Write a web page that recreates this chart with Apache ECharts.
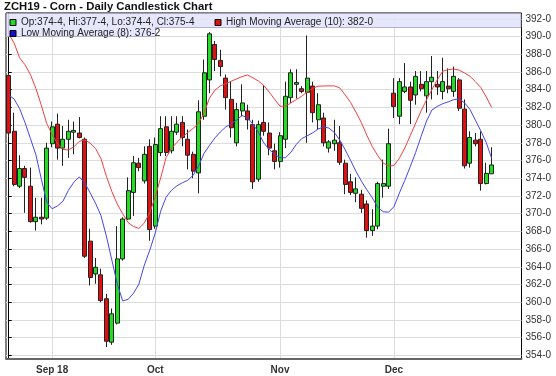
<!DOCTYPE html>
<html><head><meta charset="utf-8">
<script src="https://cdn.jsdelivr.net/npm/echarts@6/dist/echarts.min.js"></script>
<style>html,body{margin:0;padding:0;background:#fff}#c{width:556px;height:376px}</style>
</head><body><div id="c"></div>
<script>
// ---- data ----
const dates = ['08/22','08/23','08/24','08/27','08/28','08/29','08/30','08/31',
 '09/04','09/05','09/06','09/07','09/10','09/11','09/12','09/13','09/14','09/17','09/18','09/19','09/20','09/21','09/24','09/25','09/26','09/27','09/28',
 '10/01','10/02','10/03','10/04','10/05','10/08','10/09','10/10','10/11','10/12','10/15','10/16','10/17','10/18','10/19','10/22','10/23','10/24','10/25','10/26','10/29','10/30','10/31',
 '11/01','11/02','11/05','11/06','11/07','11/08','11/09','11/12','11/13','11/14','11/15','11/16','11/19','11/20','11/21','11/23','11/26','11/27','11/28','11/29','11/30',
 '12/03','12/04','12/06','12/07','12/10','12/11','12/12','12/13','12/14','12/17','12/18','12/19','12/20','12/21','12/24','12/26','12/27','12/28','12/31'];
const opens = [385.6,379.3,373.1,375.1,373.1,369.1,369.6,369.5,377.9,380.1,377.4,378.4,379.2,379.1,378.4,366.9,363.2,363.1,360.4,355.5,
 357.65,364.9,369.4,372.4,375.7,373.7,377.6,368.6,376.9,379.8,377.1,379.2,380.3,378.4,376.7,374.6,381.0,385.1,389.1,387.3,
 385.3,382.9,378.0,381.6,381.6,380.05,373.9,380.3,379.1,377.1,375.9,378.4,383.1,384.6,384.1,383.7,384.4,380.6,380.8,377.4,
 377.9,378.0,375.7,373.6,372.3,372.2,371.1,368.1,368.6,373.1,373.1,383.6,381.0,383.8,384.3,383.4,384.6,383.3,384.9,384.6,
 383.8,384.4,383.8,385.1,381.8,375.7,378.3,378.4,373.4,374.5];
const highs = [385.8,381.4,376.6,375.4,375.2,371.8,371.8,378.0,380.4,381.3,379.9,380.6,380.4,380.9,378.6,368.3,365.0,363.8,360.95,359.3,
 368.6,369.6,374.1,376.5,376.3,377.6,378.4,378.6,381.0,381.0,381.0,381.0,381.0,379.5,377.0,382.8,387.4,390.5,389.5,388.5,
 385.7,384.9,382.5,384.6,382.3,380.6,380.5,384.5,380.3,377.9,379.2,384.9,386.3,386.3,384.4,390.1,384.9,383.6,381.4,378.3,
 380.6,379.9,376.1,374.5,374.1,372.7,371.5,370.5,373.6,376.1,379.6,385.3,385.3,387.0,384.9,386.1,386.1,386.1,387.8,386.1,
 387.6,386.4,386.6,385.3,382.9,379.3,379.1,379.3,375.75,377.5];
const lows = [378.6,373.1,372.9,370.1,369.0,368.1,368.8,369.3,377.5,376.1,375.4,376.3,376.7,378.5,365.0,361.9,362.1,360.0,354.95,355.2,
 357.5,364.7,369.3,369.75,374.8,373.4,366.95,368.3,376.5,376.5,376.8,378.9,377.6,375.0,374.0,372.3,380.6,383.6,386.1,385.5,
 381.75,378.6,377.6,381.0,379.5,372.8,373.6,378.8,376.6,375.0,375.2,377.4,382.5,383.0,383.6,378.0,380.3,379.5,377.6,376.9,
 377.1,375.5,372.2,372.1,371.3,370.1,367.3,367.5,368.25,371.8,372.8,380.8,380.1,383.6,380.1,382.3,383.8,381.4,382.9,383.4,
 382.9,383.6,383.2,381.6,375.1,375.2,377.6,372.6,373.3,374.5];
const closes = [379.1,373.3,375.1,374.1,369.1,369.6,369.4,377.4,379.8,377.4,378.4,379.3,379.4,378.6,365.2,362.8,363.95,360.2,355.6,358.7,
 364.9,369.4,372.6,375.75,375.2,376.7,368.2,377.8,379.6,376.9,379.3,380.1,378.6,376.6,374.8,381.5,385.9,390.3,387.4,386.6,
 383.1,379.7,381.75,382.5,380.6,373.6,380.05,379.3,377.4,375.9,378.8,383.25,385.9,384.8,383.8,385.3,381.4,382.3,378.0,378.1,
 378.3,375.8,373.3,372.4,372.8,370.6,368.1,368.6,373.4,373.4,377.9,382.1,384.9,384.3,382.8,385.5,384.1,384.9,385.4,384.3,
 384.9,384.1,385.5,381.9,375.4,378.6,377.9,373.4,374.55,375.5];
const highMA10 = [390.3,389.26,387.6,386.81,385.7,384.15,382.25,380.19,378.95,377.9,377.26,377.19,377.54,378.16,378.34,377.96,377.36,376.21,374.23,372.51,
 371.09,370.0,369.0,368.55,368.34,368.95,370.12,371.91,374.04,376.33,377.36,378.05,378.66,379.17,379.63,380.19,381.37,383.04,383.95,384.43,
 384.68,384.95,385.21,385.48,385.65,385.34,384.98,384.48,383.73,382.92,382.13,382.13,382.5,382.87,383.25,383.75,384.14,384.39,384.41,384.43,
 384.42,384.21,383.41,382.56,381.45,380.26,378.85,377.58,376.56,375.73,375.38,375.43,376.27,377.42,378.81,380.22,381.61,382.85,384.03,385.14,
 386.09,386.25,386.33,386.2,385.88,385.51,384.9,384.24,383.18,382.0];
const lowMA8 = [383.39,382.94,381.87,380.29,378.48,376.67,373.94,371.29,370.56,370.88,371.41,372.64,373.54,374.16,373.49,372.36,371.18,369.78,367.47,364.77,
 362.07,360.16,360.33,361.02,362.07,364.21,365.89,367.81,370.28,371.86,372.64,373.15,373.49,373.77,374.33,375.4,376.81,377.71,378.55,379.22,
 379.79,380.15,380.57,381.08,380.82,380.12,379.21,377.99,377.26,376.69,376.32,376.32,376.92,377.82,378.47,378.79,379.11,379.55,379.79,379.67,
 379.17,378.32,377.22,376.02,374.78,373.66,372.7,371.8,370.73,370.22,370.17,370.79,372.34,373.77,375.31,376.92,378.72,380.46,381.71,382.11,
 382.42,382.62,382.87,382.96,382.51,381.78,380.56,379.35,378.03,376.25];
const monthStarts = ['09/04','10/01','11/01','12/03'];
const monthLabels = ['Sep 18','Oct','Nov','Dec'];
const yTicks = [354,356,358,360,362,364,366,368,370,372,374,376,378,380,382,384,386,388,390,392];
const emptySlots = ['e1','e2','e3','e4','e5'];

// ---- helpers ----
const fmt = v => { let w = Math.floor(v + 1e-6); let e = Math.round((v - w) * 8); if (e === 8) { w++; e = 0; } return w + '-' + e; };
const last = dates.length - 1;
const cats = dates.concat(emptySlots);
const monthIdx = monthStarts.map(d => cats.indexOf(d));
const isMonth = (i, v) => monthStarts.indexOf(v) >= 0;
const FONT = 'Liberation Sans';
const UP = '#22dd22', DOWN = '#dd1111';

const chart = echarts.init(document.getElementById('c'), null, {renderer: 'canvas'});
const legendBase = {padding: 0, itemWidth: 6, itemHeight: 6, itemGap: 0, selectedMode: false, z: 100,
  textStyle: {fontFamily: FONT, fontSize: 10, color: '#222'}};
chart.setOption({
  animation: false,
  backgroundColor: '#fff',
  title: {text: 'ZCH19 - Corn - Daily Candlestick Chart', left: 4, top: 1, padding: 0,
    textStyle: {fontFamily: FONT, fontSize: 11.3, fontWeight: 'bold', color: '#111'}},
  legend: [
    Object.assign({}, legendBase, {left: 9.5, top: 17.5,
      data: [{name: 'Candles', icon: 'rect', itemStyle: {color: UP, borderColor: '#000', borderWidth: 1}}],
      formatter: () => 'Op:' + fmt(opens[last]) + ', Hi:' + fmt(highs[last]) + ', Lo:' + fmt(lows[last]) + ', Cl:' + fmt(closes[last])}),
    Object.assign({}, legendBase, {left: 214.5, top: 17.5,
      data: [{name: 'High Moving Average (10)', icon: 'rect', itemStyle: {color: DOWN, borderColor: '#000', borderWidth: 1}}],
      formatter: n => n + ': ' + fmt(highMA10[last])}),
    Object.assign({}, legendBase, {left: 9.5, top: 28.5,
      data: [{name: 'Low Moving Average (8)', icon: 'rect', itemStyle: {color: '#1111cc', borderColor: '#000', borderWidth: 1}}],
      formatter: n => n + ': ' + fmt(lowMA8[last])})
  ],
  graphic: [{type: 'polygon', z: 50, silent: true,
    shape: {points: [[6.5, 13.5], [521, 13.5], [521, 27.5], [155.5, 27.5], [155.5, 36.5], [6.5, 36.5]]},
    style: {fill: 'rgba(228,228,250,0.88)', stroke: 'rgba(160,160,200,0.8)', lineWidth: 1}}],
  grid: {left: 6, right: 34.5, top: 13, bottom: 17, show: true, borderColor: '#000', borderWidth: 1, backgroundColor: '#fff'},
  xAxis: [
    {type: 'category', data: cats, boundaryGap: true,
      axisLine: {lineStyle: {color: '#666', width: 2}},
      axisTick: {interval: isMonth, alignWithLabel: true, length: 3, lineStyle: {color: '#666'}},
      axisLabel: {interval: isMonth, formatter: v => monthLabels[monthStarts.indexOf(v)] || '', margin: 6,
        fontFamily: FONT, fontSize: 10, fontWeight: 'bold', color: '#333'},
      splitLine: {show: false}},
    {type: 'value', min: -0.5, max: cats.length - 0.5, position: 'bottom',
      axisLine: {show: false}, axisLabel: {show: false},
      axisTick: {show: false, customValues: monthIdx},
      splitLine: {show: true, lineStyle: {color: '#dcdcdc', width: 1}}}
  ],
  yAxis: {type: 'value', position: 'right', min: 353.6, max: 392.65, scale: true,
    axisLine: {show: true, lineStyle: {color: '#000'}},
    axisTick: {show: true, length: 3, customValues: yTicks, lineStyle: {color: '#000'}},
    axisLabel: {customValues: yTicks, formatter: v => fmt(v), margin: 4, fontFamily: FONT, fontSize: 10, color: '#333'},
    splitLine: {show: true, lineStyle: {color: '#dcdcdc', width: 1}}},
  series: [
    {name: 'Candles', type: 'candlestick', xAxisIndex: 0, barWidth: 4.5, z: 3,
      data: dates.map((d, i) => [opens[i], closes[i], lows[i], highs[i]]),
      itemStyle: {color: UP, color0: DOWN, borderColor: '#222', borderColor0: '#222', borderWidth: 1},
      markLine: {silent: true, symbol: 'none', animation: false,
        data: [{yAxis: closes[last]}],
        lineStyle: {opacity: 0},
        label: {show: true, position: 'end', distance: 4, formatter: () => fmt(closes[last]),
          backgroundColor: '#000', color: '#fff', padding: [1, 2, 0, 2], fontFamily: FONT, fontSize: 10}}},
    {name: 'High Moving Average (10)', type: 'line', xAxisIndex: 0, data: highMA10, showSymbol: false, z: 4,
      lineStyle: {color: '#f04040', width: 1}, itemStyle: {color: DOWN}},
    {name: 'Low Moving Average (8)', type: 'line', xAxisIndex: 0, data: lowMA8, showSymbol: false, z: 4,
      lineStyle: {color: '#4545ee', width: 1}, itemStyle: {color: '#1111cc'}}
  ]
});
</script></body></html>
